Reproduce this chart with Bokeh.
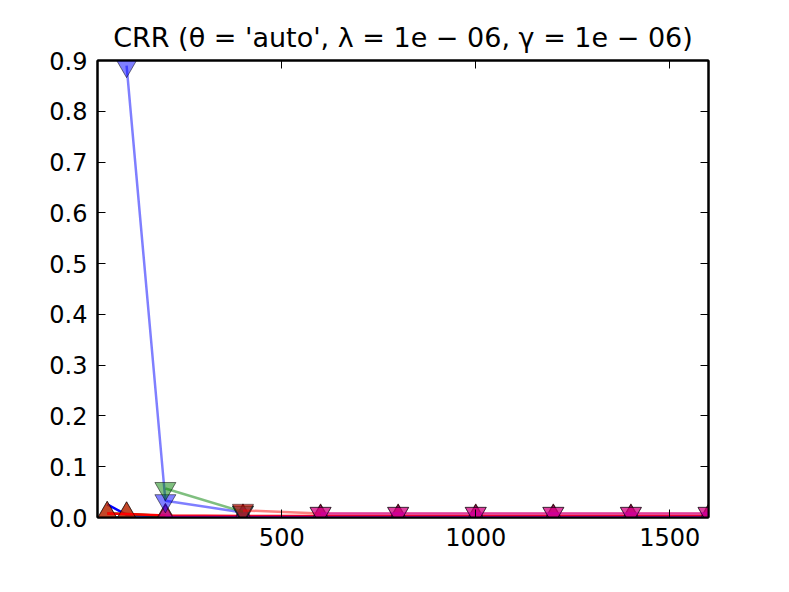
from bokeh.plotting import figure
from bokeh.models import Range1d, LinearAxis, FixedTicker, Title
from bokeh.embed import file_html
from bokeh.resources import INLINE

# ---- data ----
title_text = "CRR (\u03b8 = 'auto', \u03bb = 1e \u2212 06, \u03b3 = 1e \u2212 06)"

x_full = [50, 100, 200, 400, 600, 800, 1000, 1200, 1400, 1600]
x_from200 = [200, 400, 600, 800, 1000, 1200, 1400, 1600]
x_from100_short = [100, 200, 400]
x_from200_short = [200, 400]
x_from400 = [400, 600, 800, 1000, 1200, 1400, 1600]
x_from600 = [600, 800, 1000, 1200, 1400, 1600]

blue_up = [0.026, 0.005, 0.003, 0.002, 0.002, 0.002, 0.002, 0.002, 0.002, 0.002]
green_up = [0.008, 0.007, 0.003, 0.002, 0.002, 0.002, 0.002, 0.002, 0.002, 0.002]
red_up = [0.008, 0.007, 0.004, 0.003, 0.003, 0.003, 0.003, 0.003, 0.003, 0.003]
magenta_up = [0.001, 0.001, 0.001, 0.001, 0.001, 0.001, 0.001, 0.001]

blue_down = [0.890, 0.033, 0.010]
green_down = [0.057, 0.011]
red_down = [0.014, 0.008, 0.008, 0.008, 0.008, 0.008, 0.008]
magenta_down = [0.008, 0.008, 0.008, 0.008, 0.008, 0.008]

x_ticks = [500, 1000, 1500]
y_ticks = [0.0, 0.1, 0.2, 0.3, 0.4, 0.5, 0.6, 0.7, 0.8, 0.9]
y_tick_labels = ["0.0", "0.1", "0.2", "0.3", "0.4", "0.5", "0.6", "0.7", "0.8", "0.9"]

x_min, x_max = 25, 1600
y_min, y_max = 0.0, 0.9

# ---- colours (matplotlib classic) ----
C_B = "#0000ff"
C_G = "#008000"
C_R = "#ff0000"
C_M = "#bf00bf"

FONT = "DejaVu Sans"
MSIZE = 21

p = figure(width=773, height=576, output_backend="svg", toolbar_location=None,
           x_range=Range1d(x_min, x_max), y_range=Range1d(y_min, y_max),
           min_border_left=97, min_border_right=65, min_border_top=60, min_border_bottom=59)

p.title = Title(text=title_text, align="center", text_font=FONT,
                text_font_size="27px", text_font_style="normal", text_color="black",
                standoff=16)

p.background_fill_color = "white"
p.border_fill_color = "white"
p.outline_line_color = "black"
p.outline_line_width = 2
p.xgrid.visible = False
p.ygrid.visible = False

# solid blue line (its markers are hidden under the others in the reference)
p.line(x_full, blue_up, line_color=C_B, line_width=2.5, line_alpha=1.0)

# solid series with upward triangles
up_series = [
    (x_full, green_up, C_G),
    (x_full, red_up, C_R),
    (x_from200, magenta_up, C_M),
]
for xs, ys, c in up_series:
    p.line(xs, ys, line_color=c, line_width=2.5, line_alpha=1.0)
    p.scatter(xs, ys, marker="triangle", size=MSIZE, fill_color=c, fill_alpha=0.6,
              line_color="black", line_alpha=0.5, line_width=1)

# translucent series with downward triangles
down_series = [
    (x_from100_short, blue_down, C_B),
    (x_from200_short, green_down, C_G),
    (x_from400, red_down, C_R),
    (x_from600, magenta_down, C_M),
]
for xs, ys, c in down_series:
    p.line(xs, ys, line_color=c, line_width=2.5, line_alpha=0.5)
    p.scatter(xs, ys, marker="inverted_triangle", size=MSIZE, fill_color=c, fill_alpha=0.5,
              line_color="black", line_alpha=0.5, line_width=1)

# axes styling
def style_axis(ax, show_labels=True):
    ax.major_tick_in = 8
    ax.major_tick_out = 0
    ax.minor_tick_line_color = None
    ax.major_tick_line_color = "black"
    ax.major_tick_line_width = 1
    ax.axis_line_color = "black"
    ax.axis_line_width = 2
    ax.major_label_text_font = FONT
    ax.major_label_text_font_size = "24px"
    ax.major_label_text_color = "black"
    if not show_labels:
        ax.major_label_text_alpha = 0
        ax.major_label_text_font_size = "1px"

p.xaxis.ticker = FixedTicker(ticks=x_ticks)
p.yaxis.ticker = FixedTicker(ticks=y_ticks)
p.yaxis.major_label_overrides = {t: l for t, l in zip(y_ticks, y_tick_labels)}
p.xaxis.major_label_standoff = 10
p.yaxis.major_label_standoff = 10
style_axis(p.xaxis[0])
style_axis(p.yaxis[0])

top_ax = LinearAxis(ticker=FixedTicker(ticks=x_ticks))
right_ax = LinearAxis(ticker=FixedTicker(ticks=y_ticks))
style_axis(top_ax, show_labels=False)
style_axis(right_ax, show_labels=False)
top_ax.major_label_standoff = 0
right_ax.major_label_standoff = 0
p.add_layout(top_ax, "above")
p.add_layout(right_ax, "right")

open("out.html", "w").write(file_html(p, INLINE))
